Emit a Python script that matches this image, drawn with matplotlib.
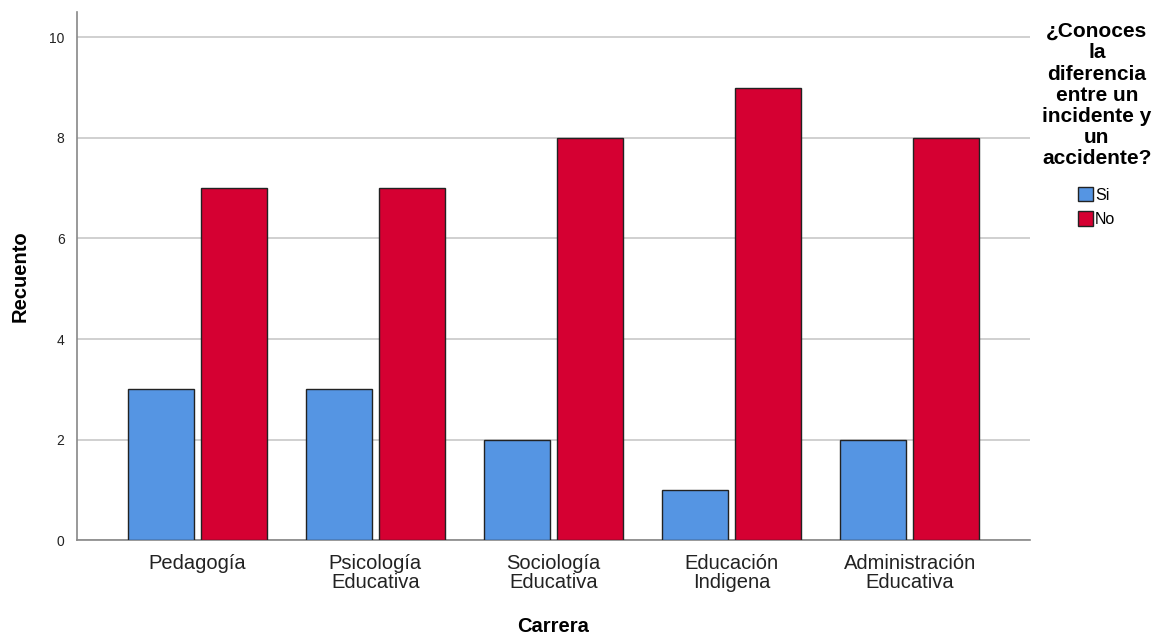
import matplotlib
matplotlib.use("Agg")
import matplotlib.pyplot as plt
import numpy as np
from matplotlib.patches import Patch

carreras = ["Pedagogía", "Psicología\nEducativa", "Sociología\nEducativa",
            "Educación\nIndigena", "Administración\nEducativa"]
si = [3, 3, 2, 1, 2]
no = [7, 7, 8, 9, 8]
titulo = "¿Conoces\nla\ndiferencia\nentre un\nincidente y\nun\naccidente?"

azul = "#5595e3"
rojo = "#d50032"

plt.rcParams['font.family'] = ['Liberation Sans', 'DejaVu Sans']

fig = plt.figure(figsize=(11.57, 6.37), dpi=100)
ax = fig.add_axes([0.0666, 0.152, 0.8236, 0.829])

x = np.arange(len(carreras))
w = 0.37
off = 0.205
ax.bar(x - off, si, w, color=azul, edgecolor="#222222", linewidth=1.0, zorder=3)
ax.bar(x + off, no, w, color=rojo, edgecolor="#222222", linewidth=1.0, zorder=3)

ax.set_xlim(-0.675, len(carreras) - 1 + 0.675)
ax.set_ylim(0, 10.5)
ax.set_yticks([0, 2, 4, 6, 8, 10])
ax.yaxis.grid(True, color="#c8c8c8", linewidth=1.2, zorder=0)
ax.set_xticks(x)
ax.set_xticklabels(carreras, fontsize=14.5, color="#222222", linespacing=1.0)
ax.tick_params(axis="y", labelsize=10, length=0, pad=9, colors="#222222")
ax.tick_params(axis="x", length=0, pad=10)

for s in ["top", "right"]:
    ax.spines[s].set_visible(False)
for s in ["left", "bottom"]:
    ax.spines[s].set_color("#888888")
    ax.spines[s].set_linewidth(1.2)

ax.set_ylabel("Recuento", fontsize=14.5, fontweight="bold", labelpad=14)
ax.set_xlabel("Carrera", fontsize=14.5, fontweight="bold", labelpad=18)

# titulo de la leyenda aparte
fig.text(0.948, 1 - 22 / 637, titulo, ha="center", va="top", fontsize=15,
         fontweight="bold", linespacing=1.15, multialignment="center")

handles = [Patch(facecolor=azul, edgecolor="#222222", label="Si"),
           Patch(facecolor=rojo, edgecolor="#222222", label="No")]
leg = fig.legend(handles=handles, loc="upper center", bbox_to_anchor=(0.948, 1 - 187 / 637),
                 frameon=False, fontsize=11.5, handlelength=0.9, handleheight=1.0,
                 handletextpad=0.15, labelspacing=0.55, borderaxespad=0, borderpad=0)

fig.savefig("out.png", dpi=100)
